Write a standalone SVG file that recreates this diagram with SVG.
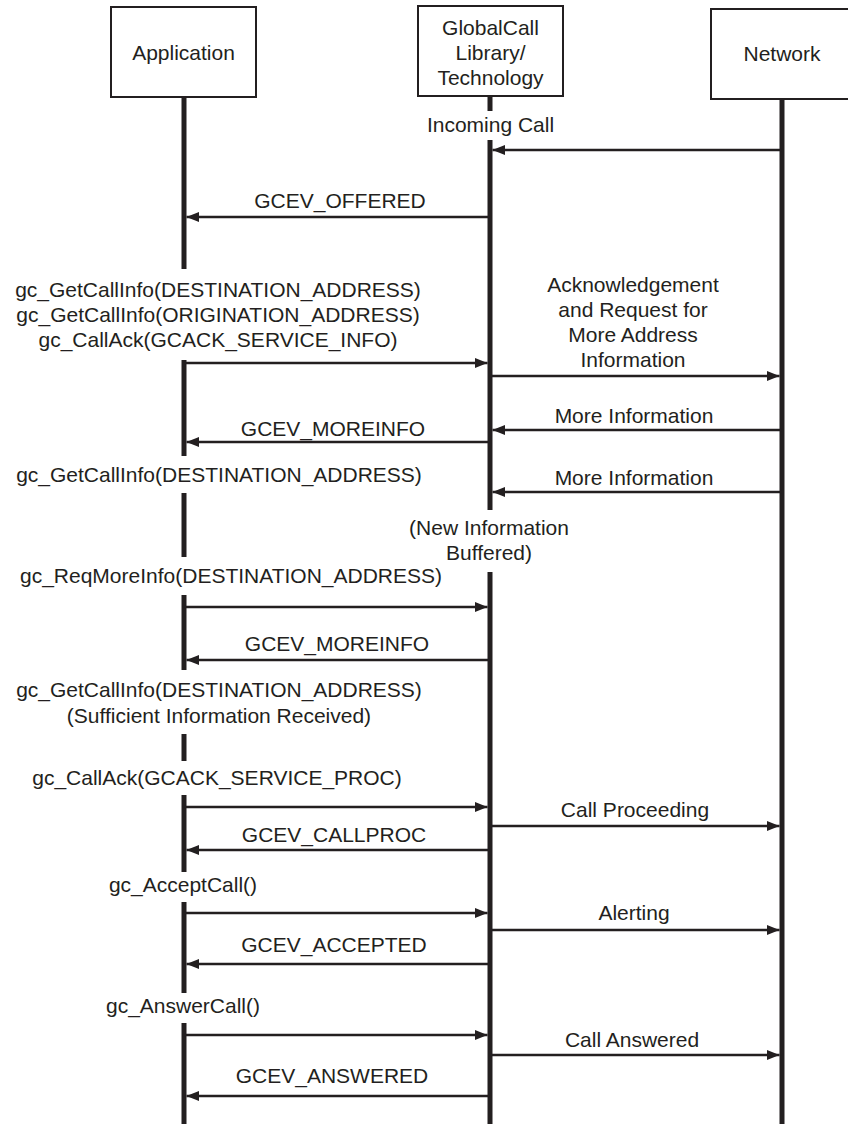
<svg xmlns="http://www.w3.org/2000/svg" width="848" height="1124" viewBox="0 0 848 1124">
<style>
  text { font-family: "Liberation Sans", Arial, sans-serif; font-size: 21px; fill: #231f20; text-anchor: middle; }
  .box { fill: #ffffff; stroke: #231f20; stroke-width: 2; }
  .life { stroke: #231f20; stroke-width: 5; fill: none; }
  .msg { stroke: #231f20; stroke-width: 2.6; fill: none; marker-end: url(#ah); }
</style>
<defs>
  <marker id="ah" markerUnits="userSpaceOnUse" markerWidth="12.5" markerHeight="10" refX="12.5" refY="5" orient="auto">
    <path d="M0,0 L12.5,5 L0,10 Z" fill="#231f20"/>
  </marker>
</defs>
<rect width="848" height="1124" fill="#ffffff"/>

<g id="application">
  <rect class="box" x="111" y="7" width="145" height="90"/>
  <text x="183.5" y="60">Application</text>
  <path class="life" d="M184,97 V269 M184,360 V456 M184,493 V557 M184,595 V670 M184,734 V761 M184,795 V872 M184,902 V993 M184,1023 V1124"/>
</g>

<g id="globalcall">
  <rect class="box" x="418" y="6" width="145" height="90"/>
  <text x="490.5" y="35">GlobalCall</text>
  <text x="490.5" y="60">Library/</text>
  <text x="490.5" y="85">Technology</text>
  <path class="life" d="M490,96 V111 M490,140 V510 M490,572 V1124"/>
</g>

<g id="network">
  <rect class="box" x="711" y="9" width="145" height="90"/>
  <text x="782" y="61">Network</text>
  <path class="life" d="M782,99 V1124"/>
</g>

<g id="notes">
  <text x="490.5" y="132">Incoming Call</text>
  <text x="489" y="535">(New Information</text>
  <text x="489" y="560">Buffered)</text>
  <text x="218" y="297">gc_GetCallInfo(DESTINATION_ADDRESS)</text>
  <text x="218" y="322">gc_GetCallInfo(ORIGINATION_ADDRESS)</text>
  <text x="218" y="347">gc_CallAck(GCACK_SERVICE_INFO)</text>
  <text x="219" y="482">gc_GetCallInfo(DESTINATION_ADDRESS)</text>
  <text x="231" y="583">gc_ReqMoreInfo(DESTINATION_ADDRESS)</text>
  <text x="219" y="697">gc_GetCallInfo(DESTINATION_ADDRESS)</text>
  <text x="219" y="723">(Sufficient Information Received)</text>
  <text x="217" y="785">gc_CallAck(GCACK_SERVICE_PROC)</text>
  <text x="183" y="892">gc_AcceptCall()</text>
  <text x="183" y="1013">gc_AnswerCall()</text>
</g>

<g id="connectors">
  <line class="msg" x1="782" y1="150" x2="492.5" y2="150"/>
  <line class="msg" x1="490" y1="217" x2="186.5" y2="217"/>
  <line class="msg" x1="184" y1="363" x2="487.5" y2="363"/>
  <line class="msg" x1="490" y1="376" x2="779.5" y2="376"/>
  <line class="msg" x1="782" y1="430" x2="492.5" y2="430"/>
  <line class="msg" x1="490" y1="442" x2="186.5" y2="442"/>
  <line class="msg" x1="782" y1="492" x2="492.5" y2="492"/>
  <line class="msg" x1="184" y1="607" x2="487.5" y2="607"/>
  <line class="msg" x1="490" y1="660" x2="186.5" y2="660"/>
  <line class="msg" x1="184" y1="807" x2="487.5" y2="807"/>
  <line class="msg" x1="490" y1="826" x2="779.5" y2="826"/>
  <line class="msg" x1="490" y1="850" x2="186.5" y2="850"/>
  <line class="msg" x1="184" y1="913" x2="487.5" y2="913"/>
  <line class="msg" x1="490" y1="930" x2="779.5" y2="930"/>
  <line class="msg" x1="490" y1="964" x2="186.5" y2="964"/>
  <line class="msg" x1="184" y1="1035" x2="487.5" y2="1035"/>
  <line class="msg" x1="490" y1="1055" x2="779.5" y2="1055"/>
  <line class="msg" x1="490" y1="1096" x2="186.5" y2="1096"/>

  <text x="340" y="208">GCEV_OFFERED</text>
  <text x="633" y="292">Acknowledgement</text>
  <text x="633" y="317">and Request for</text>
  <text x="633" y="342">More Address</text>
  <text x="633" y="367">Information</text>
  <text x="634" y="423">More Information</text>
  <text x="333" y="436">GCEV_MOREINFO</text>
  <text x="634" y="485">More Information</text>
  <text x="337" y="651">GCEV_MOREINFO</text>
  <text x="635" y="817">Call Proceeding</text>
  <text x="334" y="842">GCEV_CALLPROC</text>
  <text x="634" y="920">Alerting</text>
  <text x="334" y="952">GCEV_ACCEPTED</text>
  <text x="632" y="1047">Call Answered</text>
  <text x="332" y="1083">GCEV_ANSWERED</text>
</g>
</svg>
